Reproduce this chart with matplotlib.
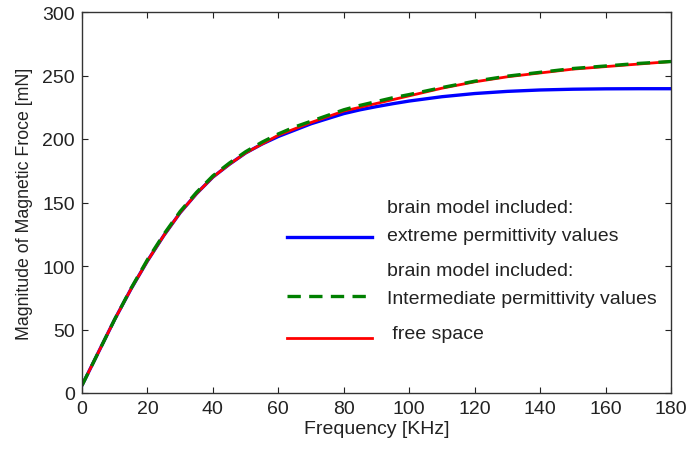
import matplotlib
matplotlib.use("Agg")
import matplotlib.pyplot as plt
from matplotlib.legend_handler import HandlerLine2D

freq = [0, 5, 10, 15, 20, 25, 30, 35, 40, 45, 50, 55, 60, 65, 70, 75, 80, 85, 90, 95, 100,
        110, 120, 130, 140, 150, 160, 170, 180]
extreme = [6, 32, 58, 82, 104, 124, 142, 157, 170, 180, 189, 196, 202, 207, 212, 216, 220, 223, 225.5, 227.8, 229.9,
           233.3, 235.8, 237.5, 238.6, 239.2, 239.5, 239.6, 239.6]
intermediate = [6, 32, 58, 82.5, 105, 125, 143, 158, 171, 181, 190, 197.5, 204, 209.5, 214, 218.5, 223, 226.5, 229.5, 232.5, 235,
                240.5, 245.5, 249.5, 252.5, 255.5, 257.5, 259.5, 261]
free_space = [6, 32, 58, 82, 104, 124, 142, 157, 170, 180, 189, 196, 203, 208, 213, 217.5, 222, 225, 228, 231, 234,
              240, 245, 249, 252, 255, 257, 259, 261]

labels = ["brain model included:\nextreme permittivity values",
          "brain model included:\nIntermediate permittivity values",
          " free space"]
xticks = [0, 20, 40, 60, 80, 100, 120, 140, 160, 180]
yticks = [0, 50, 100, 150, 200, 250, 300]

plt.rcParams['font.family'] = ['Liberation Sans', 'DejaVu Sans']


class ShiftHandler(HandlerLine2D):
    def __init__(self, dy, **kw):
        super().__init__(**kw)
        self.dy = dy

    def create_artists(self, legend, orig_handle, xdescent, ydescent, width, height, fontsize, trans):
        return super().create_artists(legend, orig_handle, xdescent, ydescent + 2 * self.dy,
                                      width, height, fontsize, trans)


fig = plt.figure(figsize=(6.86, 4.52), dpi=100)
ax = fig.add_axes([82/686, 1 - 394/452, (671-82)/686, (394-13)/452])

l1, = ax.plot(freq, extreme, color='#0000ff', lw=2.4)
l3, = ax.plot(freq, free_space, color='#ff0000', lw=2.0)
l2, = ax.plot(freq, intermediate, color='#008000', lw=2.4, dashes=(4, 2.5))

ax.set_xlim(0, 180)
ax.set_ylim(0, 300)
ax.set_xticks(xticks)
ax.set_yticks(yticks)
ax.tick_params(direction='in', top=True, right=True, length=4, labelsize=14, colors='#222222', pad=5)
for s in ax.spines.values():
    s.set_color('#333333')
    s.set_linewidth(1.0)

ax.set_xlabel("Frequency [KHz]", fontsize=14, color='#222222', labelpad=2)
ax.set_ylabel("Magnitude of Magnetic Froce [mN]", fontsize=12.8, color='#222222', labelpad=7)

leg = ax.legend([l1, l2, l3], labels, loc='center left', bbox_to_anchor=(0.318, 0.322),
                frameon=False, fontsize=14, handlelength=4.4, handletextpad=0.77,
                labelspacing=0.9,
                handler_map={l1: ShiftHandler(11.5), l2: ShiftHandler(9), l3: ShiftHandler(5)})
for t in leg.get_texts():
    t.set_color('#222222')
    t.set_linespacing(1.85)

fig.savefig("out.png", dpi=100)
